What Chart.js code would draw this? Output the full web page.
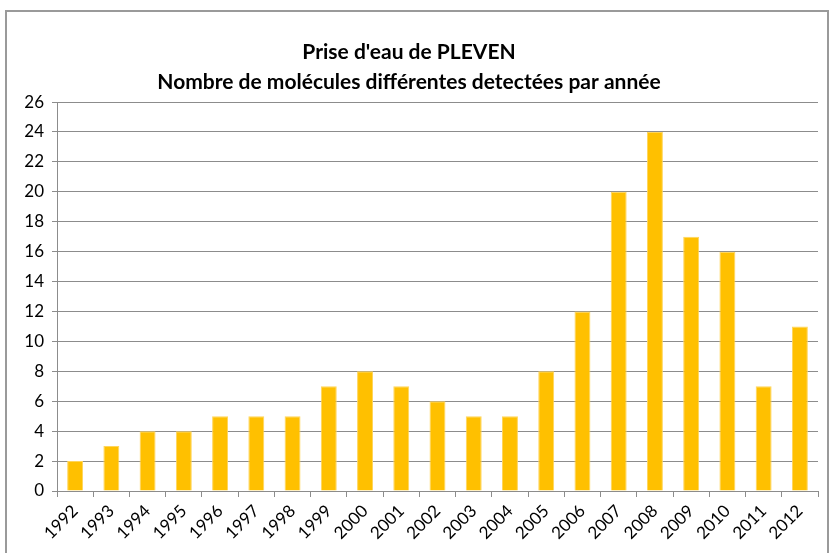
<!DOCTYPE html>
<html>
<head>
<meta charset="utf-8">
<script src="https://cdn.jsdelivr.net/npm/chart.js@4/dist/chart.umd.min.js"></script>
<style>
  body { margin: 0; background: #fff; }
  #wrap { position: relative; width: 831px; height: 553px; overflow: hidden; }
  #frame { position: absolute; left: 5px; top: 10px; width: 820px; height: 560px; border: 2px solid #9a9a9a; pointer-events: none; }
  canvas { position: absolute; left: 0; top: 0; }
</style>
</head>
<body>
<div id="wrap">
  <canvas id="chart" width="831" height="553"></canvas>
  <div id="frame"></div>
</div>
<script>
const years = ['1992', '1993', '1994', '1995', '1996', '1997', '1998', '1999', '2000', '2001', '2002',
               '2003', '2004', '2005', '2006', '2007', '2008', '2009', '2010', '2011', '2012'];
const molecules = [2, 3, 4, 4, 5, 5, 5, 7, 8, 7, 6, 5, 5, 8, 12, 20, 24, 17, 16, 7, 11];
const titleLines = ["Prise d'eau de PLEVEN", 'Nombre de molécules différentes detectées par année'];

const fontFamily = 'Lato, "Open Sans", sans-serif';

document.addEventListener('DOMContentLoaded', () => {
    const ctx = document.getElementById('chart').getContext('2d');

    new Chart(ctx, {
        type: 'bar',
        data: {
            labels: years,
            datasets: [{
                label: 'Molécules',
                data: molecules,
                backgroundColor: '#FFC000',
                borderColor: '#FFD55A',
                borderWidth: 1,
                barPercentage: 0.44,
                categoryPercentage: 1
            }]
        },
        options: {
            responsive: false,
            animation: false,
            layout: { padding: { left: 0, right: 13, top: 0, bottom: 0 } },
            plugins: {
                legend: { display: false },
                tooltip: { enabled: false },
                title: {
                    display: true,
                    text: titleLines,
                    color: '#000',
                    font: { family: fontFamily, size: 21, weight: 'bold', lineHeight: 1.43 },
                    padding: { top: 37, bottom: 5 }
                }
            },
            scales: {
                x: {
                    offset: true,
                    grid: { offset: true, drawOnChartArea: false, color: '#8c8c8c', tickLength: 6 },
                    border: { color: '#8c8c8c' },
                    ticks: {
                        color: '#000',
                        font: { family: fontFamily, size: 17 },
                        minRotation: 45,
                        maxRotation: 45,
                        autoSkip: false,
                        padding: 4
                    },
                    afterFit: (scale) => { scale.height = 62; }
                },
                y: {
                    min: 0,
                    max: 26,
                    ticks: {
                        stepSize: 2,
                        color: '#000',
                        font: { family: fontFamily, size: 17 },
                        padding: 8
                    },
                    grid: { color: '#8c8c8c', tickLength: 5 },
                    border: { color: '#8c8c8c' },
                    afterFit: (scale) => { scale.width = 57; }
                }
            }
        }
    });
});
</script>
</body>
</html>
